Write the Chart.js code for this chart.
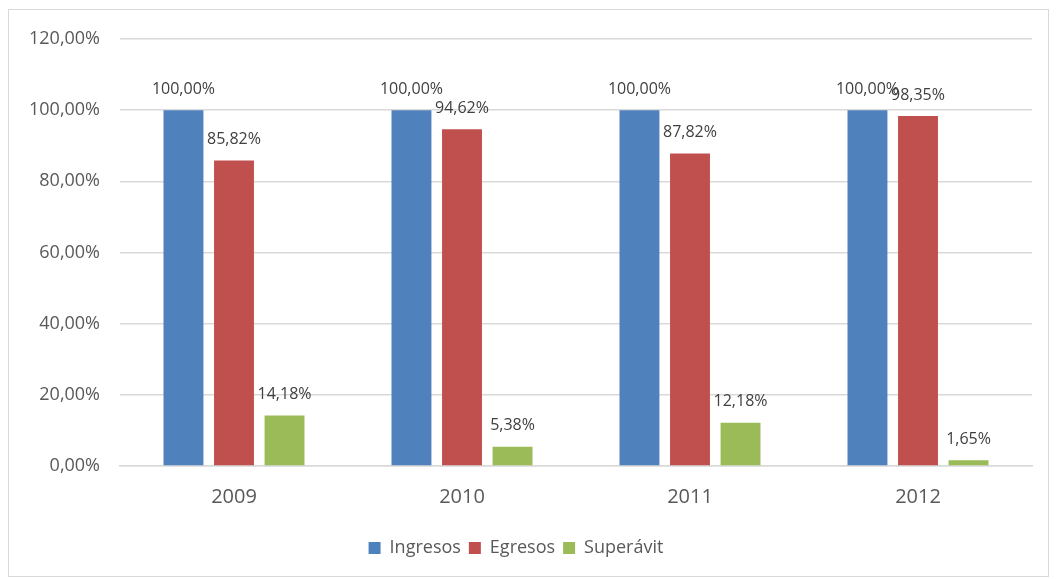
<!DOCTYPE html>
<html>
<head>
<meta charset="utf-8">
<script src="https://cdn.jsdelivr.net/npm/chart.js@4.4.1/dist/chart.umd.min.js"></script>
<style>
  html, body { margin: 0; padding: 0; background: #fff; }
  #frame { position: absolute; left: 8px; top: 9px; width: 1041px; height: 568px; border: 1px solid #d9d9d9; box-sizing: border-box; }
  #wrap { position: absolute; left: 0; top: 0; width: 1057px; height: 579px; }
</style>
</head>
<body>
<div id="frame"></div>
<div id="wrap"><canvas id="chart" width="1057" height="579"></canvas></div>
<script>
// Datos
const years = ['2009', '2010', '2011', '2012'];
const ingresos = [100, 100, 100, 100];
const egresos = [85.82, 94.62, 87.82, 98.35];
const superavit = [14.18, 5.38, 12.18, 1.65];
const yTicks = [0, 20, 40, 60, 80, 100, 120];

const TEXT = '#595959';
const FONT = "'Open Sans', sans-serif";

const fmt = v => v.toFixed(2).replace('.', ',') + '%';

// etiquetas de valor sobre cada barra
const valueLabels = {
  id: 'valueLabels',
  afterDatasetsDraw(chart) {
    const ctx = chart.ctx;
    ctx.save();
    ctx.font = '16px ' + FONT;
    ctx.fillStyle = '#404040';
    ctx.textAlign = 'center';
    ctx.textBaseline = 'middle';
    chart.data.datasets.forEach((ds, i) => {
      chart.getDatasetMeta(i).data.forEach((bar, j) => {
        ctx.fillText(fmt(ds.data[j]), bar.x, bar.y - 21);
      });
    });
    ctx.restore();
  }
};

new Chart(document.getElementById('chart'), {
  type: 'bar',
  data: {
    labels: years,
    datasets: [
      { label: 'Ingresos', data: ingresos, backgroundColor: '#4F81BD' },
      { label: 'Egresos', data: egresos, backgroundColor: '#C0504D' },
      { label: 'Superávit', data: superavit, backgroundColor: '#9BBB59' }
    ]
  },
  options: {
    responsive: false,
    animation: false,
    categoryPercentage: 0.665,
    barPercentage: 0.79,
    layout: { padding: { top: 39, right: 25, left: 0, bottom: 12 } },
    plugins: {
      tooltip: { enabled: false },
      legend: {
        position: 'bottom',
        labels: {
          font: { family: FONT, size: 18 },
          color: TEXT,
          boxWidth: 12,
          boxHeight: 12,
          padding: 8
        }
      }
    },
    scales: {
      y: {
        min: 0,
        max: 120,
        afterBuildTicks: s => { s.ticks = yTicks.map(v => ({ value: v })); },
        afterFit: s => { s.width = 120; },
        ticks: {
          font: { family: FONT, size: 18 },
          color: TEXT,
          padding: 20,
          callback: v => fmt(v)
        },
        grid: { color: '#d9d9d9', lineWidth: 1.5, drawTicks: false },
        border: { display: false }
      },
      x: {
        afterFit: s => { s.height = 65; },
        ticks: { font: { family: FONT, size: 20 }, color: TEXT, padding: 11 },
        grid: { display: false },
        border: { display: true, color: '#d9d9d9', width: 1.5 }
      }
    }
  },
  plugins: [valueLabels]
});
</script>
</body>
</html>
